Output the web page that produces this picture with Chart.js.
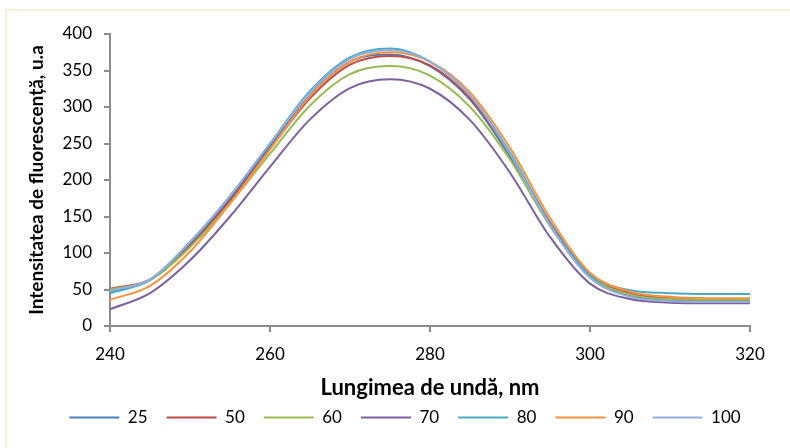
<!DOCTYPE html>
<html>
<head>
<meta charset="utf-8">
<script src="https://cdn.jsdelivr.net/npm/chart.js@4/dist/chart.umd.min.js"></script>
<style>
  html, body { margin: 0; padding: 0; background: #fff; }
  #wrap { width: 790px; height: 448px; }
</style>
</head>
<body>
<div id="wrap"><canvas id="spectre" width="790" height="448"></canvas></div>
<script>
// Lungimi de undă (nm), pas de 5 nm
const lungimi = [240, 245, 250, 255, 260, 265, 270, 275, 280, 285, 290, 295, 300, 305, 310, 315, 320];

// Intensitatea de fluorescență pentru fiecare probă
const serie25  = [47, 63, 112, 175, 246, 316, 362, 372, 356, 310, 232, 138, 67, 42, 36, 35, 35];
const serie50  = [51, 64, 110, 172, 243, 312, 358, 370, 357, 312, 236, 142, 70, 45, 38, 37, 37];
const serie60  = [50, 63, 108, 168, 236, 302, 345, 356, 343, 300, 228, 137, 68, 43, 37, 36, 36];
const serie70  = [23, 45, 90, 150, 218, 283, 326, 338, 325, 282, 210, 122, 58, 37, 32, 31, 31];
const serie80  = [45, 63, 115, 178, 250, 322, 368, 380, 362, 316, 238, 140, 70, 49, 45, 44, 44];
const serie90  = [36, 55, 102, 168, 242, 315, 362, 375, 362, 320, 244, 148, 73, 47, 40, 38, 38];
const serie100 = [48, 64, 115, 178, 250, 320, 366, 378, 362, 316, 236, 138, 66, 40, 34, 33, 33];

const etichete = ['25', '50', '60', '70', '80', '90', '100'];
const valori = [serie25, serie50, serie60, serie70, serie80, serie90, serie100];
const culori = ['#4A7EBB', '#BE4B48', '#98B954', '#7D60A0', '#46AAC5', '#F69240', '#93AEDB'];

const xTicks = [240, 260, 280, 300, 320];
const yTicks = [0, 50, 100, 150, 200, 250, 300, 350, 400];

const gri = '#8C8C8C';
const fontFam = 'Lato, "Open Sans", sans-serif';

// Chart.js deseneaza primul set deasupra, deci ordinea e inversata
const datasets = etichete.map((nume, i) => ({
    label: nume,
    data: lungimi.map((x, k) => ({ x: x, y: valori[i][k] })),
    borderColor: culori[i],
    backgroundColor: culori[i],
    borderWidth: 2,
    pointRadius: 0,
    cubicInterpolationMode: 'monotone'
})).reverse();

// Chenarul discret din jurul graficului
const chenar = {
    id: 'chenar',
    beforeDraw(chart) {
        const ctx = chart.ctx;
        ctx.save();
        ctx.strokeStyle = '#FBEFD6';
        ctx.lineWidth = 2;
        ctx.strokeRect(6, 10, 820, 480);
        ctx.restore();
    }
};

// Muta legenda putin mai sus si spre dreapta
const mutaLegenda = {
    id: 'mutaLegenda',
    afterLayout(chart) {
        const lg = chart.legend;
        if (!lg) return;
        lg.left += 30; lg.right += 30;
        lg.top -= 11; lg.bottom -= 11;
    }
};

new Chart(document.getElementById('spectre'), {
    type: 'line',
    data: { datasets: datasets },
    plugins: [chenar, mutaLegenda],
    options: {
        responsive: false,
        animation: false,
        layout: { padding: { left: 0, right: 40, top: 34, bottom: 1 } },
        plugins: {
            legend: {
                position: 'bottom',
                reverse: true,
                labels: {
                    usePointStyle: true,
                    pointStyle: 'line',
                    pointStyleWidth: 50,
                    padding: 19,
                    color: '#000',
                    font: { family: fontFam, size: 17 }
                }
            },
            tooltip: { enabled: false }
        },
        scales: {
            x: {
                type: 'linear',
                min: 240,
                max: 320,
                afterBuildTicks: (scale) => { scale.ticks = xTicks.map(v => ({ value: v })); },
                afterFit: (scale) => { scale.height = 75; },
                grid: { drawOnChartArea: false, drawTicks: true, tickLength: 6, color: gri, lineWidth: 2 },
                border: { display: true, color: gri, width: 2 },
                ticks: { color: '#000', padding: 12, maxRotation: 0, font: { family: fontFam, size: 17 } },
                title: {
                    display: true,
                    text: 'Lungimea de undă, nm',
                    color: '#000',
                    padding: { top: 0, bottom: 0 },
                    font: { family: fontFam, size: 22, weight: 'bold' }
                }
            },
            y: {
                min: 0,
                max: 400,
                afterBuildTicks: (scale) => { scale.ticks = yTicks.map(v => ({ value: v })); },
                afterFit: (scale) => { scale.width = 110; },
                grid: { drawOnChartArea: false, drawTicks: true, tickLength: 6, color: gri, lineWidth: 2 },
                border: { display: true, color: gri, width: 2 },
                ticks: { color: '#000', padding: 12, font: { family: fontFam, size: 17 } },
                title: {
                    display: true,
                    text: 'Intensitatea de fluorescență, u.a',
                    color: '#000',
                    padding: { top: 25, bottom: 0 },
                    font: { family: fontFam, size: 19, weight: 'bold' }
                }
            }
        }
    }
});
</script>
</body>
</html>
